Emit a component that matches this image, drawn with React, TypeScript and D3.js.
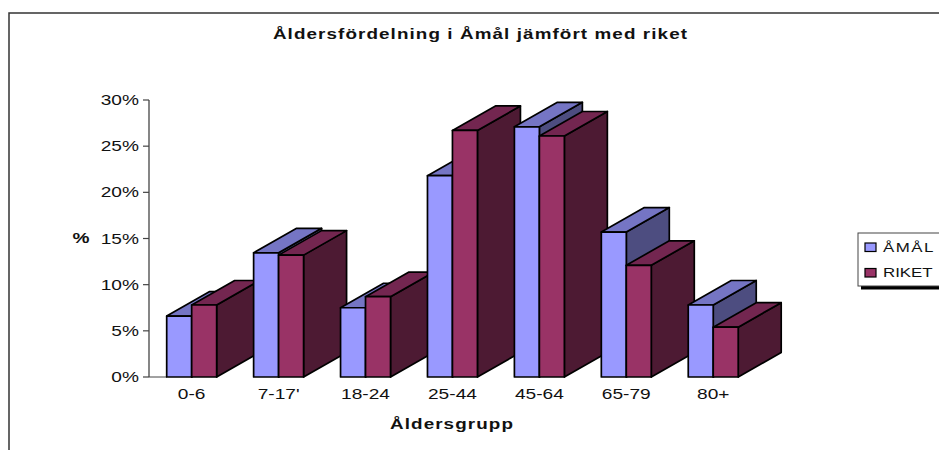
import React from "react";
import * as d3 from "d3";

const categories = ["0-6", "7-17'", "18-24", "25-44", "45-64", "65-79", "80+"];
const amal = [6.6, 13.45, 7.5, 21.8, 27.1, 15.7, 7.8];
const riket = [7.8, 13.2, 8.7, 26.7, 26.1, 12.1, 5.4];
const yTicks = [0, 5, 10, 15, 20, 25, 30];
const seriesNames = ["ÅMÅL", "RIKET"];
const front = ["#9999FF", "#993366"];
const topC = ["#7575C4", "#732650"];
const sideC = ["#4D4D80", "#4D1A33"];

const FONT = "'Liberation Sans', Arial, sans-serif";

function Wide({ x, y, sx = 1.32, anchor = "middle", size = 14.5, bold = false, spacing = 0, children }: any) {
  return (
    <text
      transform={`translate(${x},${y}) scale(${sx},1)`}
      textAnchor={anchor}
      fontSize={size}
      fontWeight={bold ? "bold" : "normal"}
      letterSpacing={spacing}
      fill="#111"
    >
      {children}
    </text>
  );
}

export default function App() {
  const y = d3.scaleLinear().domain([0, 30]).range([377, 100]);
  const x = d3.scaleBand<string>().domain(categories).range([148.7, 756.2]).paddingInner(0.4253).paddingOuter(0.207);
  const barW = x.bandwidth() / 2;
  const dx = 43, dy = -24.5;
  const base = y(0);
  const stroke = { stroke: "#000", strokeWidth: 1.7, strokeLinejoin: "round" as const };

  const bar = (v: number, x0: number, s: number) => {
    const t = y(v), x1 = x0 + barW;
    return (
      <g key={s}>
        <polygon points={`${x1},${t} ${x1 + dx},${t + dy} ${x1 + dx},${base + dy} ${x1},${base}`} fill={sideC[s]} {...stroke} />
        <polygon points={`${x0},${t} ${x0 + dx},${t + dy} ${x1 + dx},${t + dy} ${x1},${t}`} fill={topC[s]} {...stroke} />
        <rect x={x0} y={t} width={barW} height={base - t} fill={front[s]} {...stroke} />
      </g>
    );
  };

  return (
    <svg width={939} height={450} style={{ position: "absolute", left: 0, top: 0, background: "#fff" }} fontFamily={FONT}>
      <path d="M9,450V13H939" fill="none" stroke="#333" strokeWidth={1.5} />
      <Wide x={480.5} y={39} sx={1.3} bold spacing={0.84}>Åldersfördelning i Åmål jämfört med riket</Wide>

      <line x1={149} x2={149} y1={100} y2={377} stroke="#444" strokeWidth={1.3} />
      {yTicks.map((t) => (
        <g key={t}>
          <line x1={143} x2={149} y1={y(t)} y2={y(t)} stroke="#444" strokeWidth={1.2} />
          <Wide x={139} y={y(t) + 5} anchor="end">{t}%</Wide>
        </g>
      ))}
      <line x1={149} x2={167} y1={377} y2={377} stroke="#444" strokeWidth={1} />
      <Wide x={81} y={243} bold>%</Wide>

      {categories.map((c, i) => {
        const x0 = x(c)!;
        return (
          <g key={c}>
            {bar(amal[i], x0, 0)}
            {bar(riket[i], x0 + barW, 1)}
          </g>
        );
      })}
      {categories.map((c) => (
        <Wide key={c} x={x(c)! + barW} y={399}>{c}</Wide>
      ))}

      <Wide x={452} y={429} sx={1.3} bold spacing={0.84}>Åldersgrupp</Wide>

      <rect x={861} y={285.5} width={78} height={4} fill="#000" />
      <rect x={858} y={233} width={90} height={53} fill="#fff" stroke="#444" strokeWidth={1} />
      {seriesNames.map((n, i) => (
        <g key={n}>
          <rect x={865} y={243 + i * 25.5} width={11} height={8.5} fill={front[i]} stroke="#000" strokeWidth={1.2} />
          <Wide x={883} y={252 + i * 25} anchor="start" sx={1.25} size={13.5} spacing={i === 0 ? 1.2 : 0}>{n}</Wide>
        </g>
      ))}
    </svg>
  );
}
